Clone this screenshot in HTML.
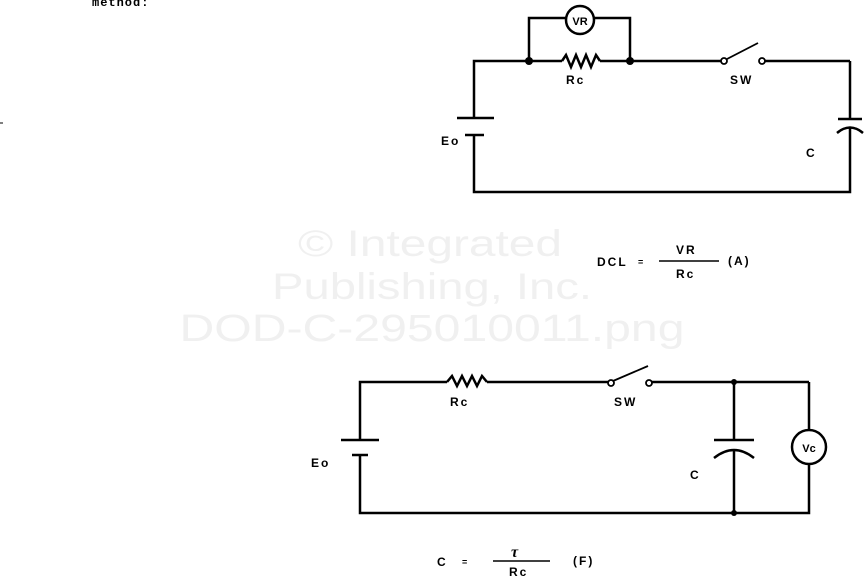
<!DOCTYPE html>
<html><head><meta charset="utf-8"><style>
html,body{margin:0;padding:0;background:#fff;}
svg{display:block;}
text{font-family:"Liberation Sans",sans-serif;font-weight:bold;fill:#000;}
</style></head><body>
<svg width="864" height="576" viewBox="0 0 864 576" xmlns="http://www.w3.org/2000/svg">
<g text-anchor="middle">
<text x="430" y="256" style="fill:#f0f0f0;font-weight:normal;font-size:37px" textLength="264" lengthAdjust="spacingAndGlyphs">© Integrated</text>
<text x="432" y="299" style="fill:#f0f0f0;font-weight:normal;font-size:37px" textLength="320" lengthAdjust="spacingAndGlyphs">Publishing, Inc.</text>
<text x="432" y="341" style="fill:#f0f0f0;font-weight:normal;font-size:38px" textLength="505" lengthAdjust="spacingAndGlyphs">DOD-C-295010011.png</text>
</g>
<text x="92" y="6" font-size="12" style="font-family:'Liberation Mono',monospace;letter-spacing:1px">method:</text>
<line x1="0" y1="123" x2="3" y2="123" stroke="#000"/>
<g stroke="#000" stroke-width="2.5" fill="none">
<polyline points="474,118 474,61 562,61"/>
<polyline points="562,61 566,55 571,67 576,55 581,67 586,55 591,67 596,55 600,61"/>
<line x1="600" y1="61" x2="721" y2="61"/>
<line x1="765" y1="61" x2="850" y2="61"/>
<line x1="850" y1="61" x2="850" y2="119"/>
<line x1="838" y1="119" x2="862" y2="119"/>
<path d="M837,133 Q850,122 863,133"/>
<polyline points="850,127 850,192 474,192 474,135"/>
<line x1="457" y1="118" x2="494" y2="118"/>
<line x1="465" y1="135" x2="484" y2="135"/>
<polyline points="529,61 529,18 566,18"/>
<polyline points="594,18 630,18 630,61"/>
<circle cx="580" cy="20" r="14"/>
<line x1="727" y1="59" x2="758" y2="43" stroke-width="1.8"/>
<circle cx="724" cy="61" r="3" stroke-width="1.8"/>
<circle cx="762" cy="61" r="3" stroke-width="1.8"/>
<polyline points="360,440 360,382 447,382"/>
<polyline points="447,382 452,376 457,386 462,376 467,386 472,376 477,386 482,376 487,382"/>
<line x1="487" y1="382" x2="608" y2="382"/>
<line x1="652" y1="382" x2="809" y2="382"/>
<line x1="809" y1="382" x2="809" y2="430"/>
<circle cx="809" cy="447" r="17"/>
<polyline points="809,464 809,513 360,513 360,455"/>
<line x1="341" y1="440" x2="379" y2="440"/>
<line x1="352" y1="455" x2="368" y2="455"/>
<line x1="734" y1="382" x2="734" y2="440"/>
<line x1="714" y1="440" x2="754" y2="440"/>
<path d="M714,458 Q734,442 754,458"/>
<line x1="734" y1="450" x2="734" y2="513"/>
<line x1="613" y1="381" x2="648" y2="366" stroke-width="1.8"/>
<circle cx="611" cy="383" r="3" stroke-width="1.8"/>
<circle cx="649" cy="383" r="3" stroke-width="1.8"/>
<line x1="659" y1="261" x2="719" y2="261" stroke-width="1.5"/>
<line x1="493" y1="561" x2="550" y2="561" stroke-width="1.5"/>
</g>
<g fill="#000">
<circle cx="529" cy="61" r="4"/><circle cx="630" cy="61" r="4"/>
<circle cx="734" cy="382" r="3"/><circle cx="734" cy="513" r="3"/>
</g>
<g font-size="12" style="letter-spacing:2px">
<text x="566" y="84">Rc</text>
<text x="730" y="84">SW</text>
<text x="441" y="145">Eo</text>
<text x="806" y="157">C</text>
<text x="580" y="25" text-anchor="middle" font-size="11" style="letter-spacing:0">VR</text>
<text x="450" y="406">Rc</text>
<text x="614" y="406">SW</text>
<text x="311" y="467">Eo</text>
<text x="690" y="479">C</text>
<text x="809" y="452" text-anchor="middle" font-size="11" style="letter-spacing:0">Vc</text>
<text x="597" y="266">DCL</text>
<text x="638" y="265" font-size="9">=</text>
<text x="676" y="254">VR</text>
<text x="676" y="278">Rc</text>
<text x="728" y="265">(A)</text>
<text x="437" y="566">C</text>
<text x="462" y="565" font-size="9">=</text>
<text x="511" y="557" font-size="16" style="font-family:'Liberation Serif',serif;font-style:italic">τ</text>
<text x="509" y="576">Rc</text>
<text x="573" y="565">(F)</text>
</g>
</svg>
</body></html>
